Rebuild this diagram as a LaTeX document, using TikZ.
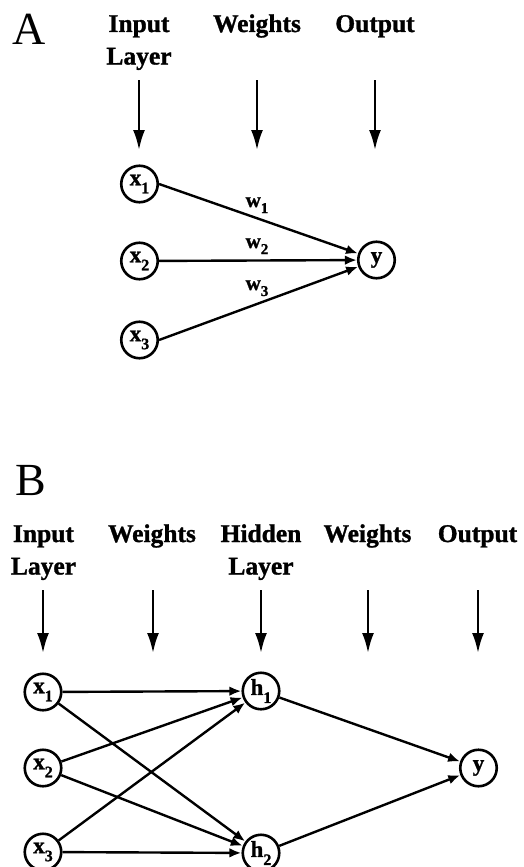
\documentclass[tikz,border=0pt]{standalone}
\usepackage{fontspec}
\setmainfont{Liberation Serif}[BoldFeatures={FakeBold=1.2}]
\usetikzlibrary{arrows.meta}
% lowered subscripts for unit and weight names
\newcommand\nsub[1]{\raisebox{-8pt}{\fontsize{16}{16}\selectfont #1}}
\newcommand\wsub[1]{\raisebox{-6pt}{\fontsize{15}{15}\selectfont #1}}
\newcommand\twoline[2]{\begin{tabular}[t]{@{}c@{}}#1\\#2\end{tabular}}
\tikzset{
  panel/.style={anchor=base west, inner sep=0pt, font=\fontsize{46}{46}\selectfont},
  header/.style={anchor=base, inner sep=0pt, font=\bfseries\fontsize{25.5}{32.5}\selectfont},
  unit/.style={circle, draw, line width=2.6pt, minimum size=36.5pt, inner sep=0pt,
    font=\bfseries\fontsize{23}{23}\selectfont},
  wlabel/.style={anchor=base, inner sep=0pt, font=\bfseries\fontsize{21}{21}\selectfont},
  pointer/.style={line width=2.4pt, -{Latex[length=20pt,width=12pt]}},
  link/.style={line width=2.4pt, -{Latex[length=12pt,width=9.5pt]}},
}
\begin{document}
\begin{tikzpicture}[x=1pt, y=-1pt]
\useasboundingbox (0,0) rectangle (523,867);

% ---------- panel A: single-layer network ----------
\node[panel] (lblA) at (12,45) {A};
\node[header] (hAin)  at (139,32) {\twoline{Input}{Layer}};
\node[header] (hAw)   at (257,32) {Weights};
\node[header] (hAout) at (375,32) {Output};

\foreach \i/\x in {1/139, 2/257, 3/375} {
  \coordinate (pA\i s) at (\x,80);
  \coordinate (pA\i e) at (\x,150);
  \draw[pointer] (pA\i s) -- (pA\i e);
}

\node[unit] (ax1) at (139.5,184) {x\nsub{1}};
\node[unit] (ax2) at (139.5,261) {x\nsub{2}};
\node[unit] (ax3) at (139.5,340) {x\nsub{3}};
\node[unit] (ay)  at (376.5,260) {y};

\draw[link] (ax1.east) -- (ay);
\draw[link] (ax2) -- (ay);
\draw[link] (ax3.east) -- (ay);

\node[wlabel] (w1) at (257,207) {w\wsub{1}};
\node[wlabel] (w2) at (257,248) {w\wsub{2}};
\node[wlabel] (w3) at (257,290) {w\wsub{3}};

% ---------- panel B: network with one hidden layer ----------
\node[panel] (lblB) at (15,495) {B};
\node[header] (hBin)  at (43.5,542)  {\twoline{Input}{Layer}};
\node[header] (hBw1)  at (152,542)   {Weights};
\node[header] (hBhid) at (261,542)   {\twoline{Hidden}{Layer}};
\node[header] (hBw2)  at (367.5,542) {Weights};
\node[header] (hBout) at (477.5,542) {Output};

\foreach \i/\x in {1/43, 2/153, 3/261, 4/368, 5/478} {
  \coordinate (pB\i s) at (\x,590);
  \coordinate (pB\i e) at (\x,653);
  \draw[pointer] (pB\i s) -- (pB\i e);
}

\node[unit] (bx1) at (43,692) {x\nsub{1}};
\node[unit] (bx2) at (43,768) {x\nsub{2}};
\node[unit] (bx3) at (43,852) {x\nsub{3}};
\node[unit] (h1)  at (261,691) {h\nsub{1}};
\node[unit] (h2)  at (261,853) {h\nsub{2}};
\node[unit] (by)  at (478.5,768) {y};

\foreach \s in {bx1, bx2, bx3} {
  \draw[link] (\s) -- (h1);
  \draw[link] (\s) -- (h2);
}
\draw[link] (h1) -- (by);
\draw[link] (h2) -- (by);
\end{tikzpicture}
\end{document}
